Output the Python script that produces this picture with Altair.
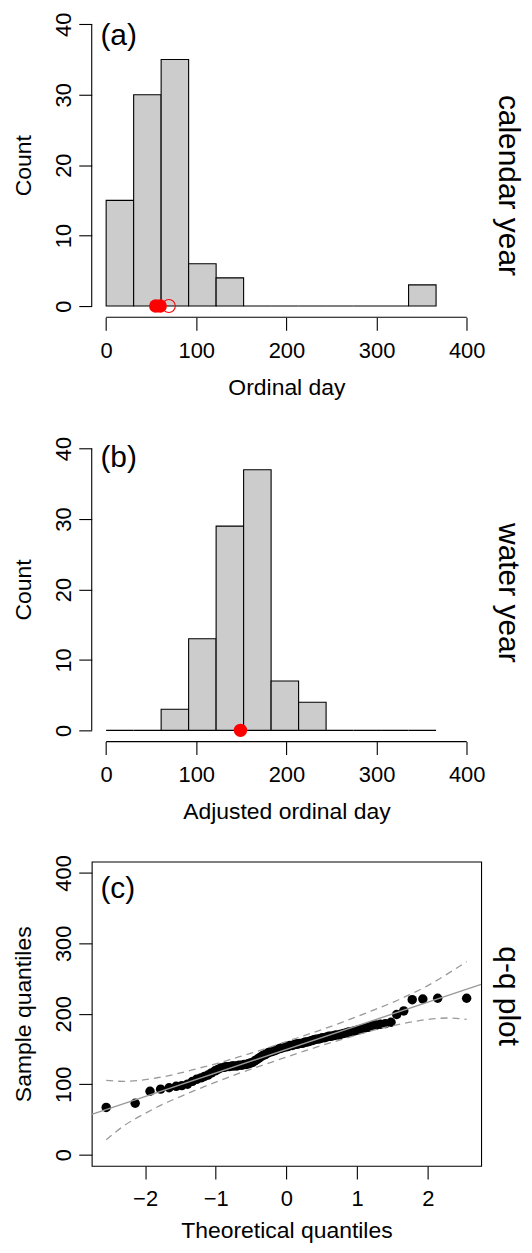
import altair as alt
import pandas as pd

# ---------------- data ----------------
bin_edges = [0, 30.5, 61, 91.5, 122, 152.5, 183, 213.5, 244, 274.5, 305, 335.5, 366]
counts_calendar = [15, 30, 35, 6, 4, 0, 0, 0, 0, 0, 0, 3]
counts_water = [0, 0, 3, 13, 29, 37, 7, 4, 0, 0, 0, 0]

calendar_filled = [55, 60]
calendar_open = [69.5]
water_filled = [149]

hist_x_ticks = [0, 100, 200, 300, 400]
count_ticks = [0, 10, 20, 30, 40]
qq_x_ticks = [-2, -1, 0, 1, 2]
qq_y_ticks = [0, 100, 200, 300, 400]

theoretical_q = [
    -2.55, -2.14, -1.93, -1.78, -1.66, -1.56, -1.48, -1.40, -1.33, -1.27,
    -1.21, -1.16, -1.11, -1.06, -1.01, -0.97, -0.93, -0.88, -0.85, -0.81,
    -0.77, -0.74, -0.70, -0.67, -0.63, -0.60, -0.57, -0.54, -0.51, -0.48,
    -0.45, -0.42, -0.39, -0.36, -0.33, -0.30, -0.27, -0.25, -0.22, -0.19,
    -0.16, -0.14, -0.11, -0.08, -0.05, -0.03, 0.00,
    0.03, 0.05, 0.08, 0.11, 0.14, 0.16, 0.19, 0.22, 0.25, 0.27,
    0.30, 0.33, 0.36, 0.39, 0.42, 0.45, 0.48, 0.51, 0.54, 0.57,
    0.60, 0.63, 0.67, 0.70, 0.74, 0.77, 0.81, 0.85, 0.88, 0.93,
    0.97, 1.01, 1.06, 1.11, 1.16, 1.21, 1.27, 1.33, 1.40, 1.48,
    1.56, 1.66, 1.78, 1.93, 2.14, 2.55,
]
sample_q = [
    67, 73, 90,
    93, 95, 97, 98, 100, 104, 107, 109, 111, 113, 116, 119, 121,
    123, 124, 125, 125, 126, 126, 126,
    127, 127, 128, 128, 129, 130, 131, 133, 135, 137, 139, 141, 142, 144,
    145, 146, 147, 148, 149, 150, 151, 152,
    153, 153, 154, 155, 155, 156, 157, 157, 158, 158, 159, 160, 160, 161,
    162, 163, 164, 164, 165, 166, 166, 167, 168, 168, 169, 170, 170, 171,
    172, 173, 174, 175, 176, 177, 178, 180, 181,
    183, 184, 185, 186, 188, 199, 204,
    220, 221, 222, 222,
]
band_x = [-2.55, -2.3, -2.0, -1.75, -1.5, -1.25, -1.0, -0.75, -0.5, -0.25, 0,
          0.25, 0.5, 0.75, 1.0, 1.25, 1.5, 1.75, 2.0, 2.3, 2.55]
band_upper = [105.5, 104, 106.5, 110.5, 116, 122.5, 129, 136.5, 144, 152, 160.5,
              169, 177.5, 186.5, 196, 206, 216, 227.5, 240, 258, 274]
band_lower = [21, 41, 58.5, 71.5, 82.5, 93, 103, 112.5, 121.5, 130, 138.5,
              147, 155, 162.5, 170, 177, 183, 188, 192, 194, 192]
line_x = [-2.755, 2.755]
line_y = [57.3, 241.7]

# ---------------- layout ----------------
FONT = "Liberation Sans"
W = 390.7
H = 305.3
SIDE_X = 418
SIDE_SIZE = 30


def x_axis(values, title, title_y):
    return alt.Axis(values=values, format="d", title=title, labelBaseline="middle",
                    labelAlign="center", labelPadding=20, titleX=W / 2, titleY=title_y,
                    titleBaseline="middle", titleAlign="center", titleAngle=0)


def y_axis(values, title):
    return alt.Axis(values=values, format="d", title=title, labelAngle=-90,
                    labelAlign="center", labelBaseline="middle", labelPadding=15,
                    titleAngle=-90, titleX=-68.4, titleY=H / 2,
                    titleBaseline="middle", titleAlign="center")


def text_layer(label, x, y, size, angle=0, align="left"):
    return alt.Chart(pd.DataFrame({"t": [label]})).mark_text(
        font=FONT, fontSize=size, angle=angle, align=align, baseline="middle",
        color="black").encode(x=alt.value(x), y=alt.value(y), text="t:N")


def hist_panel(counts, filled, opened, panel_label, label_y, side_label, side_y, xtitle,
               guard=False):
    df = pd.DataFrame({"start": bin_edges[:-1], "end": bin_edges[1:],
                       "count": counts, "base": [0] * len(counts)})
    xs = alt.Scale(domain=[-16, 416], nice=False, zero=False)
    ys = alt.Scale(domain=[-1.6, 41.6], nice=False, zero=False)
    xa = x_axis(hist_x_ticks, xtitle, 70.3)
    ya = y_axis(count_ticks, "Count")
    bars = alt.Chart(df).mark_rect(fill="#cccccc", stroke="black", strokeWidth=1.1).encode(
        x=alt.X("start:Q", scale=xs, axis=xa), x2="end:Q",
        y=alt.Y("count:Q", scale=ys, axis=ya), y2="base:Q")
    yline = alt.Chart(pd.DataFrame({"lo": [count_ticks[0]], "hi": [count_ticks[-1]]})).mark_rule(
        color="black", strokeWidth=1.1).encode(
        x=alt.value(0), y=alt.Y("lo:Q", scale=ys, axis=ya), y2="hi:Q")
    xline = alt.Chart(pd.DataFrame({"lo": [hist_x_ticks[0]], "hi": [hist_x_ticks[-1]]})).mark_rule(
        color="black", strokeWidth=1.1).encode(
        x=alt.X("lo:Q", scale=xs, axis=xa), x2="hi:Q", y=alt.value(H))
    layers = [bars, yline, xline]
    if filled:
        layers.append(alt.Chart(pd.DataFrame({"day": filled, "v": [0] * len(filled)})).mark_circle(
            color="#ff0000", size=180, opacity=1).encode(
            x=alt.X("day:Q", scale=xs, axis=xa), y=alt.Y("v:Q", scale=ys, axis=ya)))
    if opened:
        layers.append(alt.Chart(pd.DataFrame({"day": opened, "v": [0] * len(opened)})).mark_point(
            shape="circle", color="#ff0000", size=170, opacity=1, strokeWidth=1.1, filled=False).encode(
            x=alt.X("day:Q", scale=xs, axis=xa), y=alt.Y("v:Q", scale=ys, axis=ya)))
    layers.append(text_layer(panel_label, 8.7, label_y, 30))
    layers.append(text_layer(side_label, SIDE_X, side_y, SIDE_SIZE, angle=90, align="center"))
    if guard:
        # invisible anchor that pins the top-left corner of the drawing to the page margin
        layers.append(alt.Chart(pd.DataFrame({"g": [0]})).mark_rule(
            opacity=0, strokeWidth=0).encode(
            x=alt.value(-83), x2=alt.value(-83), y=alt.value(-2), y2=alt.value(-2)))
    return alt.layer(*layers).properties(width=W, height=H)


panel_a = hist_panel(counts_calendar, calendar_filled, calendar_open, "(a)", 23,
                     "calendar year", 173, "Ordinal day", guard=True)
panel_b = hist_panel(counts_water, water_filled, [], "(b)", 21,
                     "water year", 156, "Adjusted ordinal day")

# q-q panel
xs_c = alt.Scale(domain=[-2.755, 2.755], nice=False, zero=False)
ys_c = alt.Scale(domain=[-16, 416], nice=False, zero=False)
xa_c = x_axis(qq_x_ticks, "Theoretical quantiles", 65)
ya_c = y_axis(qq_y_ticks, "Sample quantiles")

qq_df = pd.DataFrame({"tq": theoretical_q, "sq": sample_q})
band_df = pd.DataFrame({
    "bx": band_x + band_x,
    "by": band_upper + band_lower,
    "which": ["upper"] * len(band_x) + ["lower"] * len(band_x),
})
line_df = pd.DataFrame({"bx": line_x, "by": line_y})

pts = alt.Chart(qq_df).mark_circle(color="black", size=90, opacity=1).encode(
    x=alt.X("tq:Q", scale=xs_c, axis=xa_c), y=alt.Y("sq:Q", scale=ys_c, axis=ya_c))
fit = alt.Chart(line_df).mark_line(color="#9a9a9a", strokeWidth=1.4, clip=True).encode(
    x=alt.X("bx:Q", scale=xs_c, axis=xa_c), y=alt.Y("by:Q", scale=ys_c, axis=ya_c))
bands = alt.Chart(band_df).mark_line(color="#9a9a9a", strokeWidth=1.3, strokeDash=[7, 5],
                                     interpolate="monotone").encode(
    x=alt.X("bx:Q", scale=xs_c, axis=xa_c), y=alt.Y("by:Q", scale=ys_c, axis=ya_c),
    detail="which:N")

panel_c = alt.layer(
    pts, fit, bands,
    text_layer("(c)", 8.7, 27, 30),
    text_layer("q-q plot", SIDE_X, 135, SIDE_SIZE, angle=90, align="center"),
).properties(width=W, height=H, view=alt.ViewBackground(stroke="black", strokeWidth=1.1))

chart = alt.vconcat(panel_a, panel_b, panel_c, spacing=119.7, bounds="flush").configure_view(
    stroke="transparent"
).configure_axis(
    labelFont=FONT, titleFont=FONT, labelFontSize=22, titleFontSize=23,
    labelColor="black", titleColor="black", tickColor="black", tickSize=13,
    tickWidth=1.1, domain=False, grid=False, titleFontWeight="normal",
    labelFlush=False, labelOverlap=False,
).properties(
    padding={"left": 0, "top": 0, "right": 0, "bottom": 0},
    background="white",
)

chart.save("out.html", embed_options={"renderer": "svg", "actions": False})
